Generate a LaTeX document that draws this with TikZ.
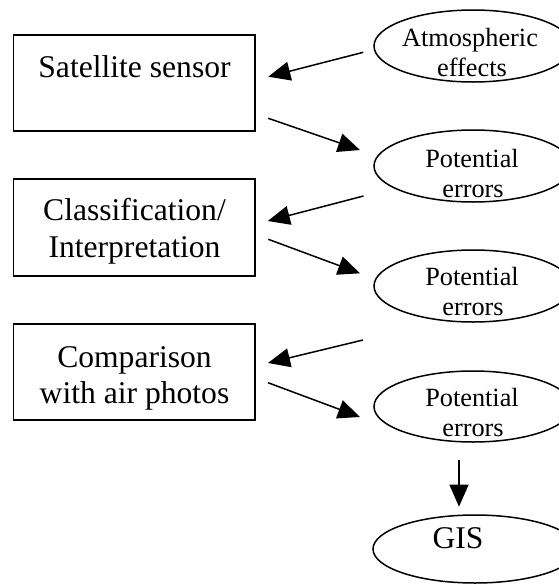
\documentclass[tikz,border=0pt]{standalone}
\usepackage{fontspec}
\setmainfont{Liberation Serif}
\usetikzlibrary{arrows.meta,shapes.geometric}
\begin{document}
\begin{tikzpicture}[x=1pt,y=-1pt,
  boxst/.style={draw,line width=1.5pt,inner sep=0pt},
  ellst/.style={draw,ellipse,line width=1.5pt,inner sep=0pt},
  bigtxt/.style={inner sep=0pt,anchor=base,font=\fontsize{31.6}{36.5}\selectfont},
  smalltxt/.style={inner sep=0pt,anchor=base,font=\fontsize{26.3}{30}\selectfont},
  arr/.style={line width=1.5pt,-{Triangle[length=22pt,width=19pt]}}]
\useasboundingbox[fill=white] (0,0) rectangle (559,584);
% boxes
\node[boxst,minimum width=241.5pt,minimum height=96pt] (b1) at (134.25,83) {};
\node[boxst,minimum width=241.5pt,minimum height=97pt] (b2) at (134.25,227.5) {};
\node[boxst,minimum width=241.5pt,minimum height=96pt] (b3) at (134.25,372) {};
\node[bigtxt] (b1t) at (134.5,77) {Satellite sensor};
\node[bigtxt] (b2t1) at (134.5,220) {Classification/};
\node[bigtxt] (b2t2) at (134.5,257) {Interpretation};
\node[bigtxt] (b3t1) at (134.5,367) {Comparison};
\node[bigtxt] (b3t2) at (134.5,403.5) {with air photos};
% ellipses
\node[ellst,minimum width=198pt,minimum height=72pt] (e1) at (473,46) {};
\node[ellst,minimum width=198pt,minimum height=72pt] (e2) at (473,166) {};
\node[ellst,minimum width=198pt,minimum height=72pt] (e3) at (473,286) {};
\node[ellst,minimum width=198pt,minimum height=71pt] (e4) at (473,406.5) {};
\node[ellst,minimum width=204pt,minimum height=68pt] (e5) at (475,549) {};
\node[smalltxt] (e1t1) at (470,46) {Atmospheric};
\node[smalltxt] (e1t2) at (472,76) {effects};
\node[smalltxt] (e2t1) at (472,167) {Potential};
\node[smalltxt] (e2t2) at (473,197) {errors};
\node[smalltxt] (e3t1) at (472,285) {Potential};
\node[smalltxt] (e3t2) at (473,315) {errors};
\node[smalltxt] (e4t1) at (472,406) {Potential};
\node[smalltxt] (e4t2) at (473,436) {errors};
\node[bigtxt] (e5t) at (458,548) {GIS};
% arrow ends
\coordinate (a1s) at (363.3,52.3);  \coordinate (a1e) at (268.3,76.7);
\coordinate (a2s) at (268.3,118.3); \coordinate (a2e) at (360,150);
\coordinate (a3s) at (363.5,196);   \coordinate (a3e) at (267.8,221);
\coordinate (a4s) at (268.3,239.3); \coordinate (a4e) at (360,273.3);
\coordinate (a5s) at (363,340);     \coordinate (a5e) at (268,363);
\coordinate (a6s) at (268,382.7);   \coordinate (a6e) at (360,417);
\coordinate (a7s) at (459,460);     \coordinate (a7e) at (459,506.7);
\draw[arr] (a1s) -- (a1e);
\draw[arr] (a2s) -- (a2e);
\draw[arr] (a3s) -- (a3e);
\draw[arr] (a4s) -- (a4e);
\draw[arr] (a5s) -- (a5e);
\draw[arr] (a6s) -- (a6e);
\draw[arr] (a7s) -- (a7e);
\end{tikzpicture}
\end{document}
